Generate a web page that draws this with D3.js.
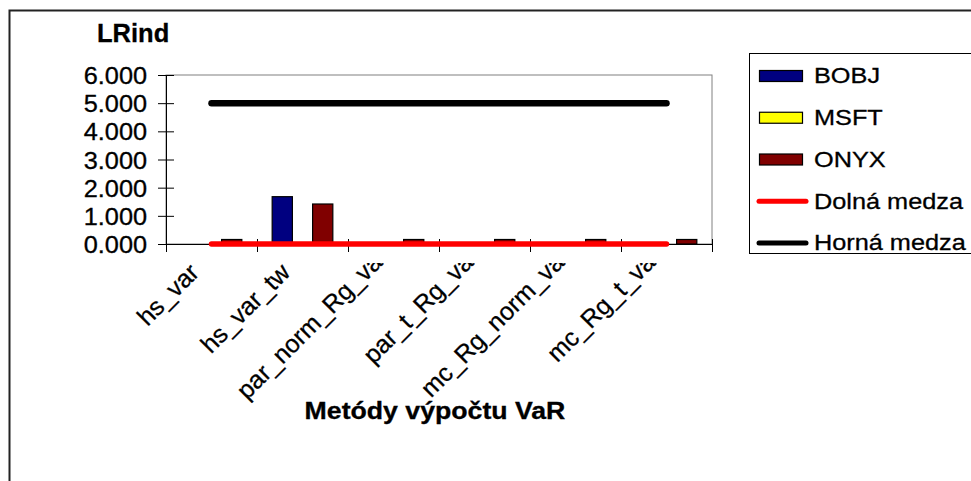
<!DOCTYPE html>
<html><head><meta charset="utf-8">
<script src="https://cdn.jsdelivr.net/npm/d3@7"></script>
<style>body{margin:0;background:#fff}svg{display:block}text{font-family:"Liberation Sans",Arial,sans-serif;fill:#000;stroke:#000;stroke-width:0.3px}</style>
</head><body>
<svg id="chart" width="971" height="481"></svg>
<script>
// LRind statistic per VaR method
const categories = ["hs_var", "hs_var_tw", "par_norm_Rg_var", "par_t_Rg_var", "mc_Rg_norm_var", "mc_Rg_t_var"];
const bobj = [0, 1.68, 0, 0, 0, 0];
const msft = [0, 0, 0, 0, 0, 0];
const onyx = [0.16, 1.42, 0.16, 0.16, 0.16, 0.16];
const dolnaMedza = [0, 0, 0, 0, 0, 0];
const hornaMedza = [5, 5, 5, 5, 5, 5];
const yTicks = [0, 1, 2, 3, 4, 5, 6];

const barSeries = [
  { name: "BOBJ", values: bobj, color: "#000080" },
  { name: "MSFT", values: msft, color: "#FFFF00" },
  { name: "ONYX", values: onyx, color: "#800000" }
];
const lineSeries = [
  { name: "Dolná medza", values: dolnaMedza, color: "#FF0000", width: 5.5 },
  { name: "Horná medza", values: hornaMedza, color: "#000000", width: 6.5 }
];

const svg = d3.select("#chart");
const plot = { left: 166, right: 712, top: 75, bottom: 244 };

// text widened horizontally in screen space (applied after any rotation)
function wideText(g, str, x, y, opts) {
  const o = Object.assign({ size: 21, sx: 1.15, rot: 0, anchor: "start", weight: "normal", baseline: "auto" }, opts || {});
  return g.append("text")
    .attr("transform", `translate(${x},${y}) scale(${o.sx},1) rotate(${o.rot})`)
    .attr("text-anchor", o.anchor)
    .attr("dominant-baseline", o.baseline)
    .style("font-size", o.size + "px")
    .style("font-weight", o.weight)
    .text(str);
}

// outer chart frame
svg.append("rect").attr("x", 9.5).attr("y", 10.5).attr("width", 1000).attr("height", 520)
  .attr("fill", "#fff").attr("stroke", "#222").attr("stroke-width", 2);

const x = d3.scaleBand().domain(categories).range([plot.left, plot.right]).paddingInner(0).paddingOuter(0);
const xs = d3.scaleBand().domain(barSeries.map(s => s.name)).range([0, x.bandwidth()]).paddingInner(0).paddingOuter(0.75);
const y = d3.scaleLinear().domain([0, 6]).range([plot.bottom, plot.top]);

// plot area border
svg.append("rect").attr("x", plot.left).attr("y", plot.top)
  .attr("width", plot.right - plot.left).attr("height", plot.bottom - plot.top)
  .attr("fill", "none").attr("stroke", "#808080").attr("stroke-width", 1);

// bars
const barG = svg.append("g");
barSeries.forEach(s => {
  barG.selectAll(null).data(s.values.map((v, i) => ({ v, c: categories[i] })).filter(d => d.v > 0))
    .enter().append("rect")
    .attr("x", d => x(d.c) + xs(s.name))
    .attr("y", d => y(d.v))
    .attr("width", xs.bandwidth())
    .attr("height", d => y(0) - y(d.v))
    .attr("fill", s.color).attr("stroke", "#000").attr("stroke-width", 1.2);
});

// y axis with crossing ticks
const yAxis = svg.append("g").attr("transform", `translate(${plot.left},0)`)
  .call(d3.axisLeft(y).tickValues(yTicks).tickSize(8).tickFormat(""));
yAxis.select(".domain").attr("stroke", "#000");
yAxis.selectAll(".tick line").attr("x1", 8).attr("stroke", "#000");
yTicks.forEach(t => wideText(svg, d3.format(".3f")(t), 147, y(t) + 1, { anchor: "end", baseline: "central", sx: 1.1, size: 23 }));

// x axis, ticks between categories
const xAxis = svg.append("g").attr("transform", `translate(0,${plot.bottom})`)
  .call(d3.axisBottom(d3.scalePoint().domain(d3.range(categories.length + 1)).range([plot.left, plot.right]))
    .tickSize(8).tickFormat(""));
xAxis.select(".domain").attr("stroke", "#000");
xAxis.selectAll(".tick line").attr("y1", -5).attr("stroke", "#000");

// rotated category labels; labels too long for the band overflow upward and are clipped
const labelSize = 25, labelSX = 1.0;
const labelBandTop = 263, labelBandBottom = 368;
const endFit = { dx: -11, dy: 30 };
const endOverflow = { dx: -4, dy: 14 };
svg.append("clipPath").attr("id", "lblclip").append("rect")
  .attr("x", 0).attr("y", labelBandTop).attr("width", 971).attr("height", 481 - labelBandTop);
const lblG = svg.append("g").attr("clip-path", "url(#lblclip)");
categories.forEach(c => {
  const cx = x(c) + x.bandwidth() / 2;
  const t = wideText(lblG, c, cx, plot.bottom, { anchor: "end", rot: -45, size: labelSize, sx: labelSX });
  const len = t.node().getComputedTextLength();
  const lowest = plot.bottom + endFit.dy + Math.SQRT1_2 * (len + 0.21 * labelSize);
  const a = lowest > labelBandBottom ? endOverflow : endFit;
  t.attr("transform", `translate(${cx + a.dx},${plot.bottom + a.dy}) scale(${labelSX},1) rotate(-45)`);
});

// limit lines
const line = d3.line().x((d, i) => x(categories[i]) + x.bandwidth() / 2).y(d => y(d));
lineSeries.forEach(s => {
  svg.append("path").datum(s.values).attr("d", line)
    .attr("fill", "none").attr("stroke", s.color).attr("stroke-width", s.width)
    .attr("stroke-linecap", "round").attr("stroke-linejoin", "round");
});

// titles
wideText(svg, "LRind", 97, 42, { size: 25, weight: "bold", sx: 1.02 });
wideText(svg, "Metódy výpočtu VaR", (plot.left + plot.right) / 2 - 4, 419, { size: 23, weight: "bold", sx: 1.16, anchor: "middle" });

// legend
const leg = svg.append("g");
leg.append("rect").attr("x", 749.5).attr("y", 53.5).attr("width", 300).attr("height", 200)
  .attr("fill", "#fff").attr("stroke", "#000").attr("stroke-width", 1);
const legItems = barSeries.map(s => ({ name: s.name, color: s.color, type: "bar" }))
  .concat(lineSeries.map(s => ({ name: s.name, color: s.color, type: "line" })));
const legY = d3.scalePoint().domain(legItems.map(d => d.name)).range([76, 243]);
legItems.forEach(d => {
  const cy = legY(d.name);
  if (d.type === "bar") {
    leg.append("rect").attr("x", 759.5).attr("y", cy - 5.5).attr("width", 43).attr("height", 11)
      .attr("fill", d.color).attr("stroke", "#000").attr("stroke-width", 1.2);
  } else {
    leg.append("line").attr("x1", 759).attr("x2", 806).attr("y1", cy).attr("y2", cy)
      .attr("stroke", d.color).attr("stroke-width", 5).attr("stroke-linecap", "round");
  }
  wideText(leg, d.name, 814, cy, { baseline: "central", size: 22, sx: 1.15 });
});
</script>
</body></html>
